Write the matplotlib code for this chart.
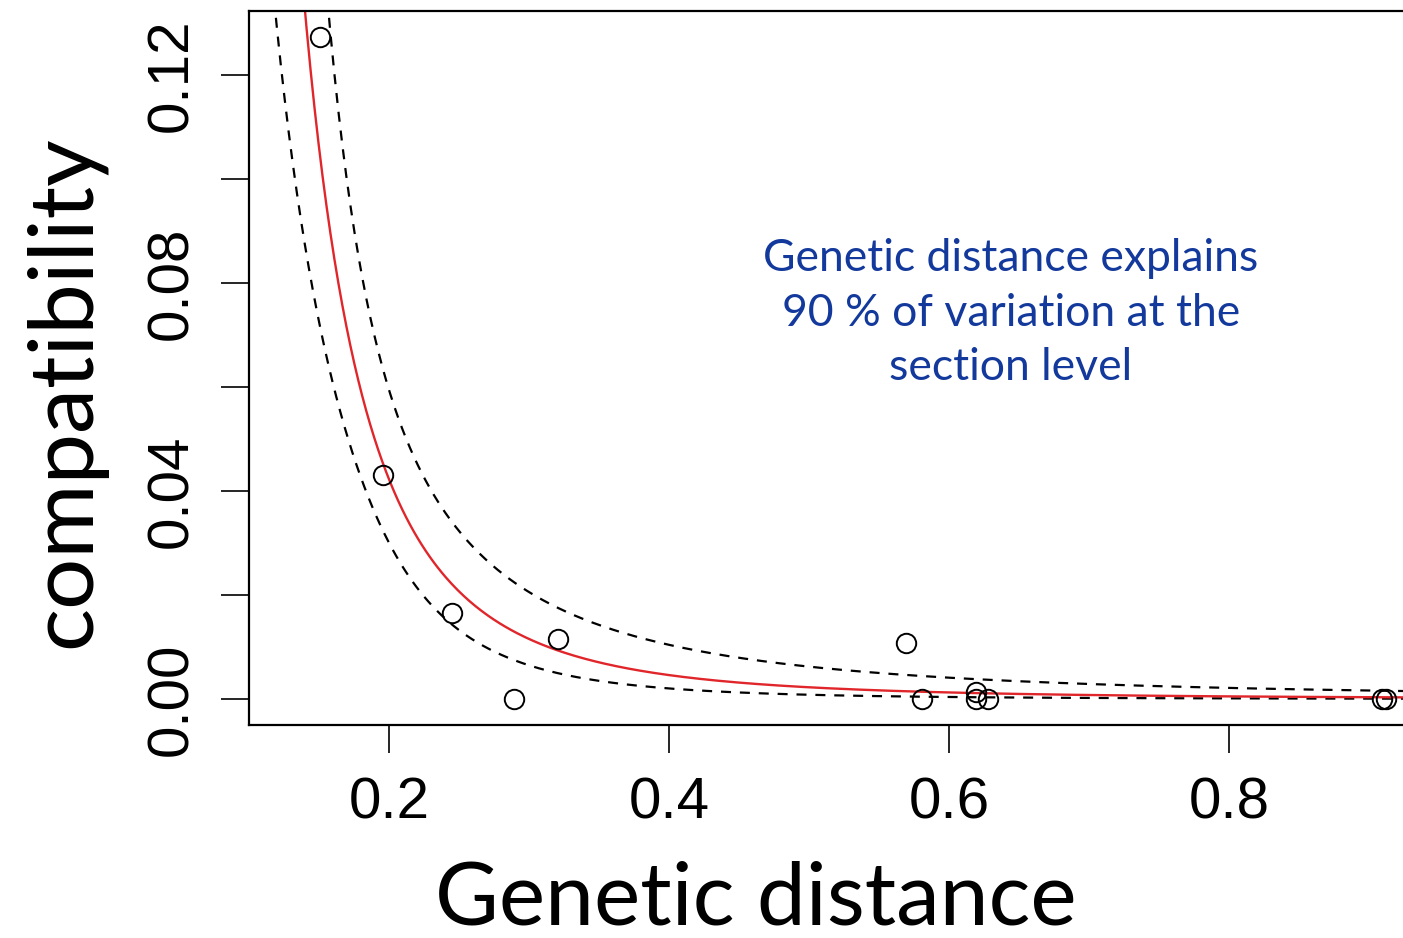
import numpy as np
import matplotlib
matplotlib.use('Agg')
import matplotlib.pyplot as plt

# observed points (genetic distance vs compatibility)
gen_dist = [0.151, 0.196, 0.245, 0.289, 0.321, 0.569, 0.581, 0.619, 0.619, 0.628, 0.909, 0.912]
compat = [0.1273, 0.0431, 0.0165, 0.0, 0.0115, 0.0108, 0.0, 0.0013, 0.0, 0.0, 0.0, 0.0]

# fitted power curve y = a * x^-k and its band
fit_a = 0.000245
fit_k = 3.2
band_w0 = 0.33      # half-width of the band (log scale) at its narrowest
band_slope = 0.955  # growth of the half-width with log(x)
band_centre = -1.7  # log(x) where the band is narrowest

xticks = [0.2, 0.4, 0.6, 0.8]
yticks = [0.00, 0.02, 0.04, 0.06, 0.08, 0.10, 0.12]
ylabels = ['0.00', '', '0.04', '', '0.08', '', '0.12']

note = 'Genetic distance explains\n90 % of variation at the\nsection level'

W, H = 1403, 938
fig = plt.figure(figsize=(W / 100, H / 100), dpi=100)
ax = fig.add_axes([249 / W, (H - 725) / H, 1190 / W, 714 / H])

xs = np.linspace(0.1, 0.95, 600)
lx = np.log(xs)
yfit = fit_a * xs ** (-fit_k)
half = np.sqrt(band_w0 ** 2 + band_slope ** 2 * (lx - band_centre) ** 2)
ax.plot(xs, yfit * np.exp(half), color='black', lw=1.6, ls=(0, (4.5, 4)))
ax.plot(xs, yfit * np.exp(-half), color='black', lw=1.6, ls=(0, (4.5, 4)))
ax.plot(xs, yfit, color='#e0262b', lw=1.7)

ax.plot(gen_dist, compat, 'o', ms=14, mfc='none', mec='black', mew=1.4)

ax.set_xlim(0.1, 0.95)
ax.set_ylim(-0.005, 0.1323)

ax.set_xticks(xticks)
ax.set_xticklabels(['0.2', '0.4', '0.6', '0.8'])
ax.set_yticks(yticks)
ax.set_yticklabels(ylabels, rotation=90, va='center')
ax.tick_params(direction='out', length=20, width=1.2, labelsize=42)
ax.tick_params(axis='x', pad=17)
ax.tick_params(axis='y', pad=16)
for lab in ax.get_xticklabels() + ax.get_yticklabels():
    lab.set_family('Liberation Sans')
for s in ax.spines.values():
    s.set_linewidth(1.6)

# axis titles placed in figure pixels, the axes box runs past the right edge
fig.text(756 / W, 1 - 900 / H, 'Genetic distance', fontsize=63, family='Lato',
         ha='center', va='center')
fig.text(65 / W, 1 - 392 / H, 'compatibility', fontsize=65, family='Lato',
         ha='center', va='center', rotation=90)

fig.text(1011 / W, 1 - 313 / H, note, fontsize=32, family='Lato', color='#12399b',
         ha='center', va='center', linespacing=1.42)

fig.savefig('out.png', dpi=100)
